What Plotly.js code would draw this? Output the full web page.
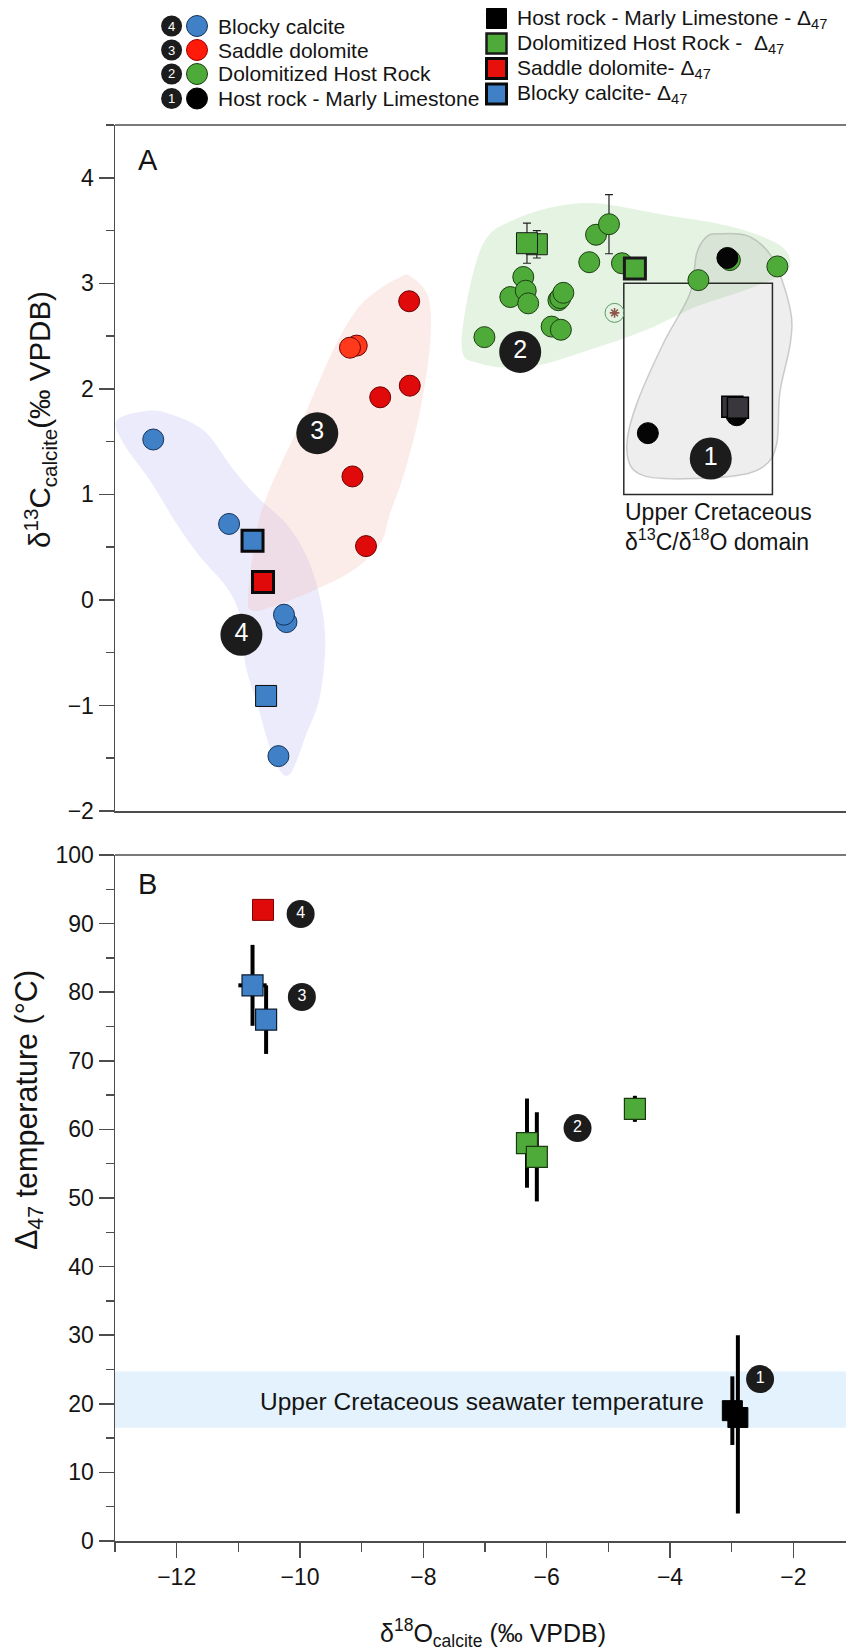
<!DOCTYPE html>
<html><head><meta charset="utf-8">
<script src="https://cdn.plot.ly/plotly-3.0.1.min.js"></script>
<style>html,body{margin:0;padding:0;background:#fff}#chart{width:846px;height:1650px}</style>
</head><body><div id="chart"></div>
<script>
// ================= DATA =================
// Panel A: stable isotopes (circles)
const blockyD18O = [-12.38, -11.15, -10.22, -10.26, -10.35];
const blockyD13C = [1.52, 0.72, -0.21, -0.14, -1.48];

const saddleD18O = [-8.23, -9.08, -9.19, -8.22, -8.70, -9.15, -8.93];
const saddleD13C = [2.83, 2.41, 2.39, 2.03, 1.92, 1.17, 0.51];

const doloD18O = [-7.01, -6.59, -6.38, -6.34, -6.30, -5.92, -5.77, -5.81, -5.78, -5.73, -5.31, -5.20, -4.99, -4.78, -3.54, -3.03, -2.26];
const doloD13C = [2.49, 2.87, 3.06, 2.93, 2.81, 2.59, 2.56, 2.84, 2.86, 2.91, 3.20, 3.46, 3.56, 3.19, 3.03, 3.22, 3.16];
const doloD13CErr = [0, 0, 0, 0, 0, 0, 0, 0, 0, 0, 0, 0, 0.28, 0, 0, 0, 0];

const hostD18O = [-3.07, -4.36, -2.92];
const hostD13C = [3.24, 1.58, 1.75];

const outlierD18O = [-4.90];
const outlierD13C = [2.72];

// Clumped isotope samples (squares, panels A and B)
const clHostD18O = [-2.99, -2.90];
const clHostD13C = [1.83, 1.82];
const clHostT = [19, 18];
const clHostTErrPlus = [5, 12];
const clHostTErrMinus = [5, 14];

const clDoloD18O = [-6.16, -6.32, -4.57];
const clDoloD13C = [3.37, 3.38, 3.14];
const clDoloD13CErr = [0.13, 0.19, 0];
const clDoloT = [56, 58, 63];
const clDoloTErr = [6.5, 6.5, 1.9];

const clSaddleD18O = [-10.60];
const clSaddleD13C = [0.17];
const clSaddleT = [92];

const clBlockyD18O = [-10.77, -10.55];
const clBlockyD13C = [0.56, -0.91];
const clBlockyT = [81, 76];
const clBlockyTErr = [5.9, 5];
const clBlockyD18OErr = [0.23, 0];

// Group labels
const groupLabelsA = ['2', '3', '4', '1'];
const groupLabelsB = ['4', '3', '2', '1'];

// Seawater temperature band (°C)
const seawaterT = [16.5, 24.7];
// Upper Cretaceous δ13C/δ18O domain
const domainD18O = [-4.75, -2.34];
const domainD13C = [1.0, 3.0];

// ================= STYLE / GEOMETRY =================
const FONT = 'Liberation Sans, Arial, Helvetica, sans-serif';
const TXT = '#141414';
const AX = '#4d4d4d';
const BLUE = '#3f80c6', RED = '#e00a0a', RED2 = '#ff3a1c', GREEN = '#4eab3a', BLACK = '#050505';

// pixel -> paper helpers (plot area: x 115..846, y 125..1541)
const PL = 115, PW = 731, PB = 1541, PH = 1416;
const px = v => (v - PL) / PW;
const py = v => (PB - v) / PH;

// blob outlines (data coords of panel A)
const blob4 = [[-12.97,1.70],[-12.5,1.79],[-12.1,1.76],[-11.55,1.6],[-11.1,1.25],[-10.70,0.98],[-10.22,0.72],[-9.89,0.41],[-9.68,0.03],[-9.59,-0.41],[-9.68,-0.92],[-9.89,-1.26],[-10.18,-1.66],[-10.43,-1.49],[-10.70,-0.98],[-10.89,-0.60],[-10.97,-0.16],[-11.19,0.12],[-11.62,0.41],[-12.0,0.72],[-12.43,1.13],[-12.86,1.48]];
const blob3 = [[-8.22,3.07],[-7.92,2.87],[-7.89,2.43],[-8.05,1.80],[-8.3,1.22],[-8.54,0.82],[-8.70,0.53],[-9.14,0.28],[-9.78,0.09],[-10.43,-0.06],[-10.78,-0.10],[-10.84,0.06],[-10.70,0.66],[-10.54,0.98],[-10.3,1.3],[-9.89,1.80],[-9.46,2.37],[-9.08,2.75],[-8.70,2.95],[-8.40,3.05]];
const blob2 = [[-7.38,2.43],[-7.08,3.31],[-6.54,3.60],[-5.41,3.76],[-4.11,3.65],[-3.03,3.54],[-2.27,3.38],[-2.05,3.22],[-2.16,3.09],[-2.76,2.94],[-3.57,2.78],[-4.38,2.56],[-5.30,2.37],[-6.27,2.21],[-7.08,2.24]];
const blob1 = [[-3.19,3.47],[-2.70,3.44],[-2.32,3.22],[-2.05,2.75],[-2.05,2.43],[-2.22,1.96],[-2.27,1.48],[-2.49,1.26],[-3.03,1.17],[-4.11,1.15],[-4.59,1.23],[-4.70,1.48],[-4.54,1.86],[-4.11,2.43],[-3.68,2.90],[-3.57,3.28],[-3.41,3.44]];

function smoothPath(pts) {
  const n = pts.length;
  let d = 'M ' + pts[0][0] + ',' + pts[0][1];
  for (let i = 0; i < n; i++) {
    const p0 = pts[(i - 1 + n) % n], p1 = pts[i], p2 = pts[(i + 1) % n], p3 = pts[(i + 2) % n];
    const c1 = [p1[0] + (p2[0] - p0[0]) / 6, p1[1] + (p2[1] - p0[1]) / 6];
    const c2 = [p2[0] - (p3[0] - p1[0]) / 6, p2[1] - (p3[1] - p1[1]) / 6];
    d += ' C ' + c1[0] + ',' + c1[1] + ' ' + c2[0] + ',' + c2[1] + ' ' + p2[0] + ',' + p2[1];
  }
  return d + ' Z';
}

// ================= TRACES =================
const A = {xaxis: 'x2', yaxis: 'y2'};
const circ = (c, lc) => ({symbol: 'circle', size: 21, color: c, line: {color: lc || '#1b1b1b', width: 1}});

const traces = [
  // Panel A circles
  Object.assign({type: 'scatter', mode: 'markers', x: blockyD18O, y: blockyD13C, marker: circ(BLUE, '#13335a')}, A),
  Object.assign({type: 'scatter', mode: 'markers', x: saddleD18O, y: saddleD13C,
    marker: {symbol: 'circle', size: 21, color: [RED, RED2, RED2, RED, RED, RED, RED], line: {color: '#6a0000', width: 1}}}, A),
  Object.assign({type: 'scatter', mode: 'markers', x: doloD18O, y: doloD13C, marker: circ(GREEN, '#1d3d12'),
    error_y: {type: 'data', array: doloD13CErr, color: '#222', thickness: 1.2, width: 4}}, A),
  Object.assign({type: 'scatter', mode: 'markers', x: hostD18O, y: hostD13C, marker: circ(BLACK, '#000')}, A),
  Object.assign({type: 'scatter', mode: 'markers', x: outlierD18O, y: outlierD13C,
    marker: {symbol: 'circle', size: 19, color: 'rgba(0,0,0,0)', line: {color: '#5c9a66', width: 1}}}, A),
  Object.assign({type: 'scatter', mode: 'markers', x: outlierD18O, y: outlierD13C,
    marker: {symbol: 'asterisk-open', size: 8, line: {color: '#111', width: 1.6}}}, A),
  // Panel A squares (clumped samples)
  Object.assign({type: 'scatter', mode: 'markers', x: clDoloD18O, y: clDoloD13C,
    marker: {symbol: 'square', size: 21, color: GREEN, line: {color: '#1a1a1a', width: [1, 1, 3]}},
    error_y: {type: 'data', array: clDoloD13CErr, color: '#222', thickness: 1.2, width: 4}}, A),
  Object.assign({type: 'scatter', mode: 'markers', x: clHostD18O, y: clHostD13C,
    marker: {symbol: 'square', size: 21, color: '#39373d', line: {color: '#000', width: 1.5}}}, A),
  Object.assign({type: 'scatter', mode: 'markers', x: clBlockyD18O, y: clBlockyD13C,
    marker: {symbol: 'square', size: 21, color: BLUE, line: {color: '#0a0a0a', width: [3, 1]}}}, A),
  Object.assign({type: 'scatter', mode: 'markers', x: clSaddleD18O, y: clSaddleD13C,
    marker: {symbol: 'square', size: 21, color: RED, line: {color: '#0a0a0a', width: 3}}}, A),
  // Group labels A
  Object.assign({type: 'scatter', mode: 'markers+text', x: [-6.43, -9.72, -10.95, -3.34], y: [2.35, 1.58, -0.33, 1.34],
    text: groupLabelsA, textposition: 'middle center', textfont: {family: FONT, size: 25, color: '#fff'},
    marker: {symbol: 'circle', size: 42, color: '#1c1c1c', line: {width: 0}}}, A),

  // Panel B
  {type: 'scatter', mode: 'markers', x: clSaddleD18O, y: clSaddleT,
    marker: {symbol: 'square', size: 21, color: RED, line: {color: '#7a0000', width: 1}}},
  {type: 'scatter', mode: 'markers', x: clBlockyD18O, y: clBlockyT,
    marker: {symbol: 'square', size: 21, color: BLUE, line: {color: '#0c1a2c', width: 1.2}},
    error_y: {type: 'data', array: clBlockyTErr, color: '#000', thickness: 4, width: 0},
    error_x: {type: 'data', array: clBlockyD18OErr, color: '#000', thickness: 4, width: 0}},
  {type: 'scatter', mode: 'markers', x: clDoloD18O.slice().reverse(), y: clDoloT.slice().reverse(),
    marker: {symbol: 'square', size: 21, color: GREEN, line: {color: '#1b3a10', width: 1.2}},
    error_y: {type: 'data', array: clDoloTErr.slice().reverse(), color: '#000', thickness: 4, width: 0}},
  {type: 'scatter', mode: 'markers', x: clHostD18O, y: clHostT,
    marker: {symbol: 'square', size: 20, color: '#000', line: {color: '#000', width: 1}},
    error_y: {type: 'data', symmetric: false, array: clHostTErrPlus, arrayminus: clHostTErrMinus, color: '#000', thickness: 4, width: 0}},
  {type: 'scatter', mode: 'markers+text', x: [-9.99, -9.97, -5.50, -2.54], y: [91.4, 79.3, 60.2, 23.6],
    text: groupLabelsB, textposition: 'middle center', textfont: {family: FONT, size: 16, color: '#fff'},
    marker: {symbol: 'circle', size: 28, color: '#1c1c1c', line: {width: 0}}}
];

// ================= SHAPES =================
const shapes = [
  {type: 'path', xref: 'x2', yref: 'y2', path: smoothPath(blob4), fillcolor: 'rgba(188,182,242,0.28)', line: {width: 0}, layer: 'below'},
  {type: 'path', xref: 'x2', yref: 'y2', path: smoothPath(blob3), fillcolor: 'rgba(245,180,170,0.26)', line: {width: 0}, layer: 'below'},
  {type: 'path', xref: 'x2', yref: 'y2', path: smoothPath(blob2), fillcolor: 'rgba(160,216,152,0.28)', line: {width: 0}, layer: 'below'},
  {type: 'path', xref: 'x2', yref: 'y2', path: smoothPath(blob1), fillcolor: 'rgba(150,150,150,0.16)', line: {color: 'rgba(150,150,150,0.45)', width: 1.5}, layer: 'below'},
  {type: 'rect', xref: 'x2', yref: 'y2', x0: domainD18O[0], x1: domainD18O[1], y0: domainD13C[0], y1: domainD13C[1],
    line: {color: '#2a2a2a', width: 1.5}, fillcolor: 'rgba(0,0,0,0)', layer: 'below'},
  {type: 'rect', xref: 'x domain', yref: 'y', x0: 0, x1: 1, y0: seawaterT[0], y1: seawaterT[1], fillcolor: '#e3f2fc', line: {width: 0}, layer: 'below'},
  // top frame lines
  {type: 'line', xref: 'paper', yref: 'y2 domain', x0: 0, x1: 1, y0: 1, y1: 1, line: {color: AX, width: 1.5}},
  {type: 'line', xref: 'paper', yref: 'y domain', x0: 0, x1: 1, y0: 1, y1: 1, line: {color: AX, width: 1.5}}
];

const annotations = [];
function pcircle(cx, cy, r, fill, lc, lw) {
  shapes.push({type: 'circle', xref: 'paper', yref: 'paper', xsizemode: 'pixel', ysizemode: 'pixel',
    xanchor: px(cx), yanchor: py(cy), x0: -r, x1: r, y0: -r, y1: r, fillcolor: fill, line: {color: lc || fill, width: lw || 0}});
}
function psquare(cx, cy, h, fill, lc, lw) {
  shapes.push({type: 'rect', xref: 'paper', yref: 'paper', xsizemode: 'pixel', ysizemode: 'pixel',
    xanchor: px(cx), yanchor: py(cy), x0: -h, x1: h, y0: -h, y1: h, fillcolor: fill, line: {color: lc, width: lw}});
}
function ptext(x, y, text, size, opts) {
  annotations.push(Object.assign({xref: 'paper', yref: 'paper', x: px(x), y: py(y), text: text, showarrow: false,
    xanchor: 'left', yanchor: 'middle', font: {family: FONT, size: size, color: TXT}}, opts || {}));
}

// Legend left column
const legL = [['4', BLUE, '#13335a', 'Blocky calcite'], ['3', '#ff1a0a', '#a00000', 'Saddle dolomite'],
              ['2', GREEN, '#1d3d12', 'Dolomitized Host Rock'], ['1', '#000', '#000', 'Host rock - Marly Limestone']];
const legLY = [26, 50, 74, 98.5];
legL.forEach((it, i) => {
  pcircle(171.6, legLY[i], 10.5, '#1c1c1c');
  ptext(171.6, legLY[i], it[0], 13, {xanchor: 'center', font: {family: FONT, size: 13, color: '#fff'}});
  pcircle(197, legLY[i], 10.5, it[1], it[2], 1);
  ptext(216, legLY[i], it[3], 21);
});
// Legend right column
const legR = [['#000', '#000', 1, 'Host rock - Marly Limestone - Δ<sub>47</sub>'],
              [GREEN, '#1a1a1a', 2.5, 'Dolomitized Host Rock -  Δ<sub>47</sub>'],
              ['#e8100a', '#0a0a0a', 3, 'Saddle dolomite- Δ<sub>47</sub>'],
              [BLUE, '#0a0a0a', 3, 'Blocky calcite- Δ<sub>47</sub>']];
const legRY = [18.5, 43.5, 68.5, 94];
legR.forEach((it, i) => {
  psquare(496.5, legRY[i], 10, it[0], it[1], it[2]);
  ptext(515, legRY[i], it[3], 21);
});

// panel letters
ptext(147.5, 160, 'A', 29, {xanchor: 'center'});
ptext(147.5, 884, 'B', 29, {xanchor: 'center'});
// axis titles
ptext(40, 420, 'δ<sup>13</sup>C<sub>calcite</sub>(‰ VPDB)', 29.5, {xanchor: 'center', textangle: -90});
ptext(28, 1110, 'Δ<sub>47</sub> temperature (°C)', 30.5, {xanchor: 'center', textangle: -90});
ptext(493, 1633, 'δ<sup>18</sup>O<sub>calcite</sub> (‰ VPDB)', 25, {xanchor: 'center'});

// data-space texts
annotations.push({xref: 'x', yref: 'y', x: -3.41, y: 20.4, xanchor: 'right', yanchor: 'middle', showarrow: false,
  text: 'Upper Cretaceous seawater temperature', font: {family: FONT, size: 24.5, color: TXT}});
annotations.push({xref: 'x2', yref: 'y2', x: domainD18O[0] - 0.02, y: 0.83, xanchor: 'left', yanchor: 'middle', showarrow: false,
  text: 'Upper Cretaceous', font: {family: FONT, size: 23, color: TXT}});
annotations.push({xref: 'x2', yref: 'y2', x: domainD18O[0] - 0.02, y: 0.57, xanchor: 'left', yanchor: 'middle', showarrow: false,
  text: 'δ<sup>13</sup>C/δ<sup>18</sup>O domain', font: {family: FONT, size: 23, color: TXT}});

// ================= LAYOUT =================
const axCommon = {showgrid: false, zeroline: false, showline: true, linecolor: AX, linewidth: 1.5,
  ticks: 'outside', tickcolor: AX, tickwidth: 1.5, ticklen: 15,
  tickfont: {family: FONT, size: 23, color: TXT}};
const layout = {
  width: 846, height: 1650,
  margin: {l: 115, r: 0, t: 125, b: 109, pad: 0},
  paper_bgcolor: '#fff', plot_bgcolor: 'rgba(0,0,0,0)',
  showlegend: false,
  font: {family: FONT, color: TXT},
  xaxis: Object.assign({}, axCommon, {anchor: 'y', domain: [0, 1], range: [-13, -1.147], tickmode: 'linear', tick0: 0, dtick: 2,
    minor: {tickmode: 'linear', tick0: 0, dtick: 1, ticks: 'outside', ticklen: 9, tickwidth: 1.5, tickcolor: AX, showgrid: false}}),
  xaxis2: Object.assign({}, axCommon, {anchor: 'y2', domain: [0, 1], range: [-13, -1.147], matches: 'x', ticks: '', showticklabels: false}),
  yaxis: Object.assign({}, axCommon, {anchor: 'x', domain: [0, 686 / 1416], range: [0, 100], tickmode: 'linear', tick0: 0, dtick: 10,
    minor: {tickmode: 'linear', tick0: 0, dtick: 5, ticks: 'outside', ticklen: 8, tickwidth: 1.5, tickcolor: AX, showgrid: false}}),
  yaxis2: Object.assign({}, axCommon, {anchor: 'x2', domain: [730 / 1416, 1], range: [-2, 4.5], tickmode: 'linear', tick0: 0, dtick: 1,
    minor: {tickmode: 'linear', tick0: 0, dtick: 0.5, ticks: 'outside', ticklen: 8, tickwidth: 1.5, tickcolor: AX, showgrid: false}}),
  shapes: shapes,
  annotations: annotations
};

Plotly.newPlot('chart', traces, layout, {displayModeBar: false, staticPlot: true});
</script>
</body></html>
